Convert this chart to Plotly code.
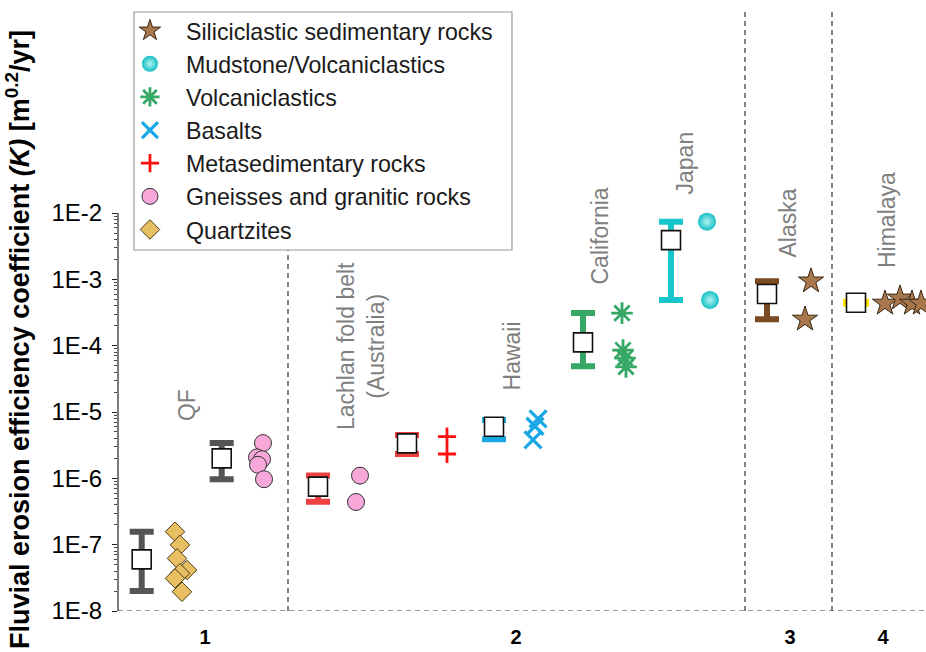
import math
import plotly.graph_objects as go

FONT = "Liberation Sans, Arial, sans-serif"

# ---------------- data: K values in m^0.2/yr ----------------
# horizontal slot positions are in layout units (0 .. 80.8 across the plot)
silic_x = [69.3, 68.7, 76.7, 78.2, 79.4, 80.3]
silic_k = [9.4e-4, 2.5e-4, 4.35e-4, 5.2e-4, 4.35e-4, 4.35e-4]

mud_x = [58.9, 59.2]
mud_k = [7.4e-3, 4.9e-4]

volc_x = [50.4, 50.5, 50.7, 50.8]
volc_k = [3.1e-4, 8.6e-5, 6.5e-5, 4.8e-5]

basalt_x = [42.0, 41.7, 41.5]
basalt_k = [7.9e-6, 6.1e-6, 3.8e-6]

meta_x = [32.9, 32.9]
meta_k = [4.25e-6, 2.33e-6]

gneiss_x = [14.5, 13.9, 14.4, 14.0, 14.6, 24.2, 23.8]
gneiss_k = [3.4e-6, 2.07e-6, 1.94e-6, 1.6e-6, 9.7e-7, 1.1e-6, 4.4e-7]

quartz_x = [5.7, 6.2, 5.9, 6.9, 6.2, 5.7, 6.4]
quartz_k = [1.57e-7, 9.9e-8, 6.2e-8, 4.15e-8, 3.7e-8, 3.1e-8, 1.95e-8]

# summary per site: position, representative K, upper and lower bound, bar colour
summ_x = [2.37, 10.37, 20.0, 28.9, 37.6, 46.5, 55.3, 64.9, 73.8]
summ_k = [6.0e-8, 2.0e-6, 7.5e-7, 3.37e-6, 6.0e-6, 1.12e-4, 3.9e-3, 6.0e-4, 4.45e-4]
summ_hi = [1.57e-7, 3.4e-6, 1.1e-6, 4.5e-6, 7.6e-6, 3.1e-4, 7.4e-3, 9.4e-4, 4.45e-4]
summ_lo = [2.0e-8, 9.7e-7, 4.45e-7, 2.33e-6, 3.9e-6, 4.9e-5, 4.9e-4, 2.5e-4, 4.45e-4]
summ_col = ["#555555", "#555555", "#EE4040", "#EE4040", "#1AA7E6",
            "#35A865", "#17C6CB", "#7A4A22", "#FFE600"]
summ_thick = [6, 6, 6, 6, 6, 6, 6, 6, 8]
summ_capw = [12, 12, 12, 12, 12, 12, 12, 12, 13]

# region labels: text, x, bottom edge (log10 K) of the rotated text
region_txt = ["QF", "Hawaii", "California", "Japan", "Alaska", "Himalaya"]
region_x = [6.9, 39.4, 48.2, 56.7, 67.0, 76.9]
region_ybot = [-5.166, -4.713, -3.115, -1.758, -2.708, -2.859]

group_ticks = [8.7, 39.8, 67.2, 76.5]
group_labels = ["1", "2", "3", "4"]
dividers = [17.0, 62.7, 71.4]

y_major = [10.0 ** e for e in range(-8, -1)]
y_major_txt = ["1E-%d" % -e for e in range(-8, -1)]
y_minor = [m * 10.0 ** e for e in range(-8, -2) for m in range(2, 10)]

fig = go.Figure()

# site summaries: white squares with min/max bars
for x, k, hi, lo, c, t, w in zip(summ_x, summ_k, summ_hi, summ_lo, summ_col,
                                  summ_thick, summ_capw):
    fig.add_trace(go.Scatter(
        x=[x], y=[k], mode="markers", showlegend=False, hoverinfo="skip",
        marker=dict(symbol="square", size=19, color="white",
                    line=dict(color="#111111", width=1.6)),
        error_y=dict(type="data", symmetric=False, array=[hi - k], arrayminus=[k - lo],
                     color=c, thickness=t, width=w),
    ))

fig.add_trace(go.Scatter(
    x=silic_x, y=silic_k, mode="markers", name="Siliciclastic sedimentary rocks",
    marker=dict(symbol="star", size=19, color="#A8784C", line=dict(color="#3A2816", width=1)),
))
fig.add_trace(go.Scatter(
    x=mud_x, y=mud_k, mode="markers", name="Mudstone/Volcaniclastics",
    marker=dict(symbol="circle", size=18, color="#12BFC4", line=dict(width=0),
                gradient=dict(type="radial", color="#B8F4F4")),
))
fig.add_trace(go.Scatter(
    x=volc_x, y=volc_k, mode="markers", name="Volcaniclastics",
    marker=dict(symbol="asterisk-open", size=18, color="#35A865",
                line=dict(color="#35A865", width=2.8)),
))
fig.add_trace(go.Scatter(
    x=basalt_x, y=basalt_k, mode="markers", name="Basalts",
    marker=dict(symbol="x-thin-open", size=17, color="#1AA7E6",
                line=dict(color="#1AA7E6", width=3.2)),
))
fig.add_trace(go.Scatter(
    x=meta_x, y=meta_k, mode="markers", name="Metasedimentary rocks",
    marker=dict(symbol="cross-thin-open", size=13, color="#FF1010",
                line=dict(color="#FF1010", width=2.8)),
))
fig.add_trace(go.Scatter(
    x=gneiss_x, y=gneiss_k, mode="markers", name="Gneisses and granitic rocks",
    marker=dict(symbol="circle", size=17, color="#F7A8D9", line=dict(color="#333333", width=1)),
))
fig.add_trace(go.Scatter(
    x=quartz_x, y=quartz_k, mode="markers", name="Quartzites",
    marker=dict(symbol="diamond", size=15, color="#E8BF62", line=dict(color="#4A3A14", width=1)),
))

shapes = []
# partial left axis line, 1E-8 .. 1E-2
shapes.append(dict(type="line", xref="paper", yref="y", x0=0, x1=0,
                   y0=1e-8, y1=1e-2, line=dict(color="#222222", width=1.2)))
# dashed baseline
shapes.append(dict(type="line", xref="paper", yref="y", x0=0, x1=1,
                   y0=1e-8, y1=1e-8, line=dict(color="#333333", width=1.2, dash="5px,4px")))
# region dividers
for d in dividers:
    shapes.append(dict(type="line", xref="x", yref="paper", x0=d, x1=d, y0=0, y1=1,
                       line=dict(color="#333333", width=1.2, dash="5px,4px")))
# legend frame
shapes.append(dict(type="rect", xref="paper", yref="paper", x0=0.0198, x1=0.4876,
                   y0=0.6007, y1=0.9967, layer="above", fillcolor="white",
                   line=dict(color="#9A9A9A", width=1.2)))

annotations = []
for t, x, yb in zip(region_txt, region_x, region_ybot):
    annotations.append(dict(text=t, x=x, y=yb, xref="x", yref="y", textangle=-90,
                            xanchor="center", yanchor="bottom", showarrow=False,
                            font=dict(family=FONT, size=23, color="#7F7F7F")))
annotations.append(dict(text="Lachlan fold belt<br>(Australia)", x=24.3, y=-4.005,
                        xref="x", yref="y", textangle=-90, xanchor="center",
                        yanchor="middle", showarrow=False, align="center",
                        font=dict(family=FONT, size=23, color="#7F7F7F")))
annotations.append(dict(
    text="<b>Fluvial erosion efficiency coefficient <i>(K)</i> [m<sup>0.2</sup>/yr]</b>",
    x=-0.1238, y=0.4526, xref="paper", yref="paper", textangle=-90,
    xanchor="center", yanchor="middle", showarrow=False,
    font=dict(family=FONT, size=27, color="black")))

fig.update_layout(
    width=926, height=652,
    margin=dict(l=118, r=0, t=10, b=41),
    paper_bgcolor="white", plot_bgcolor="white",
    font=dict(family=FONT, color="black"),
    shapes=shapes, annotations=annotations,
    legend=dict(x=-0.005, y=1.0017, xanchor="left", yanchor="top",
                bgcolor="rgba(0,0,0,0)", borderwidth=0,
                font=dict(family=FONT, size=23.2, color="#1A1A1A"),
                itemwidth=62, tracegroupgap=0),
    xaxis=dict(range=[0, 80.8], showgrid=False, zeroline=False, showline=False,
               tickmode="array", tickvals=group_ticks, ticktext=group_labels,
               ticks="", tickfont=dict(family=FONT, size=20, color="black", weight="bold"),
               ticklabelstandoff=12),
    yaxis=dict(type="log", range=[-8, 1.061], showgrid=False, zeroline=False,
               showline=False, tickmode="array", tickvals=y_major, ticktext=y_major_txt,
               ticks="outside", ticklen=5, tickwidth=1.2, tickcolor="#222222",
               tickfont=dict(family=FONT, size=24, color="black"),
               ticklabelstandoff=5,
               minor=dict(tickmode="array", tickvals=y_minor, ticks="outside",
                          ticklen=3, tickwidth=1, tickcolor="#444444", showgrid=False)),
)

fig.write_html("out.html")
